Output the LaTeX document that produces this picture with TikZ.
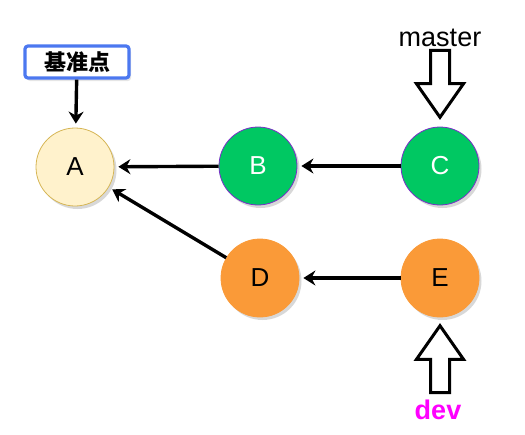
\documentclass[tikz,border=0pt]{standalone}
\usepackage{fontspec}
\setmainfont{Liberation Sans}
\newfontfamily\cjk{Noto Sans CJK SC}
\usetikzlibrary{shapes.arrows,shadows,arrows.meta}
\definecolor{creamfill}{HTML}{FFF2CC}
\definecolor{creamline}{HTML}{D6B656}
\definecolor{commitgreen}{HTML}{00C862}
\definecolor{greenline}{HTML}{7A2FC8}
\definecolor{commitorange}{HTML}{FA9A38}
\definecolor{tagblue}{HTML}{4C78F0}
\definecolor{devpink}{HTML}{FF00FF}
\tikzset{
  commit/.style={draw, circle, minimum size=78pt, inner sep=0pt, line width=0.8pt,
    font=\fontsize{26}{26}\selectfont,
    drop shadow={shadow xshift=2.5pt, shadow yshift=-3pt, fill=black!30}},
  link/.style={line width=3.4pt, -{Stealth[length=12pt, width=15pt, inset=4pt]}, shorten >=4pt},
  pointer/.style={draw, single arrow, line width=3pt, fill=white, minimum width=44pt,
    single arrow head extend=14pt, single arrow head indent=0pt, single arrow tip angle=70,
    minimum height=67pt, inner sep=8pt, shape border rotate=#1}
}
\begin{document}
\begin{tikzpicture}[x=1pt, y=-1pt]
    \useasboundingbox (0,0) rectangle (525,434);
    % Nodes
    \node[commit, fill=creamfill, draw=creamline] (A) at (75,167) {A};
    \node[commit, fill=commitgreen, draw=greenline, text=white] (B) at (258,166) {B};
    \node[commit, fill=commitgreen, draw=greenline, text=white] (C) at (440,166) {C};
    \node[commit, fill=commitorange, draw=commitorange] (D) at (260,278) {D};
    \node[commit, fill=commitorange, draw=commitorange] (E) at (440,278) {E};
    \node[draw=tagblue, fill=white, line width=3.2pt, rounded corners=3pt, minimum width=104pt,
      minimum height=32pt, inner sep=2pt, font=\cjk\bfseries\fontsize{22}{22}\selectfont,
      drop shadow={shadow xshift=2pt, shadow yshift=-3pt, fill=black!20}] (base) at (77,62) {基准点};
    \node[font=\fontsize{27}{27}\selectfont] (master) at (440,38) {master};
    \node[font=\bfseries\fontsize{27}{27}\selectfont, text=devpink] (dev) at (438,410) {dev};
    \node[pointer=270] (mptr) at (440,77) {};
    \node[pointer=90] (dptr) at (440,366) {};
    % Edges
    \draw[link] (base) -- (A);
    \draw[link] (B) -- (A);
    \draw[link] (D) -- (A);
    \draw[link] (C) -- (B);
    \draw[link] (E) -- (D);
\end{tikzpicture}
\end{document}
